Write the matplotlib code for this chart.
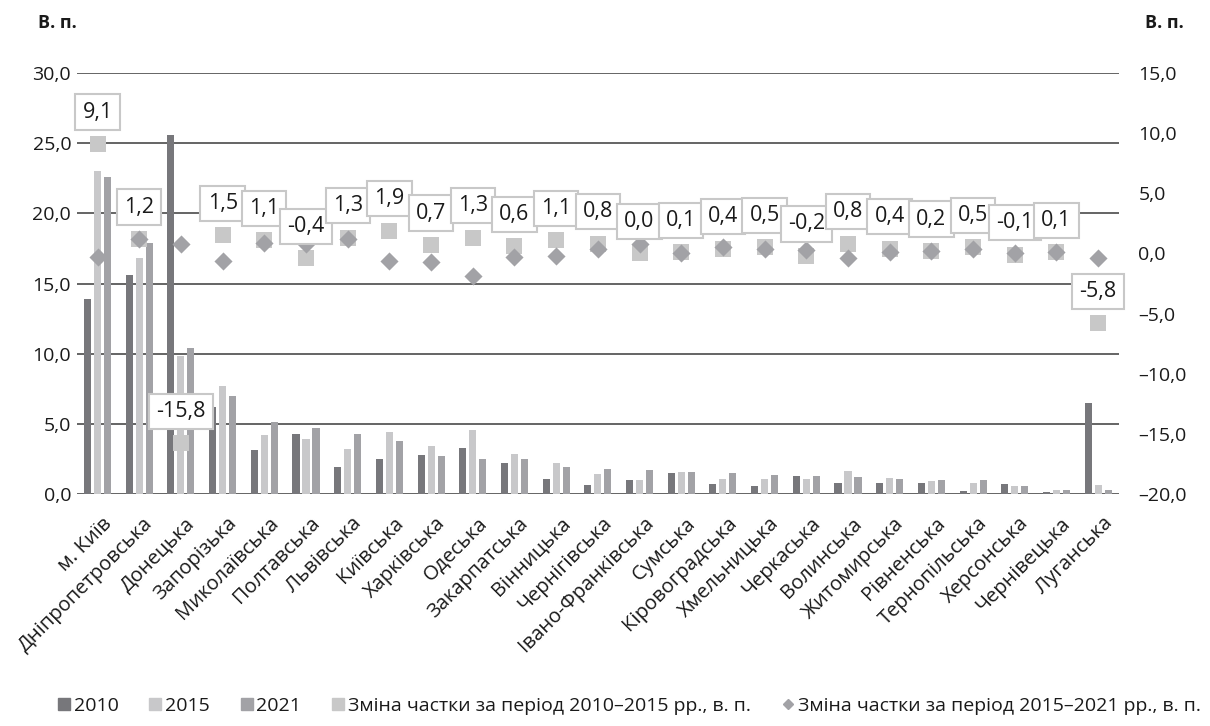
import matplotlib
matplotlib.use('Agg')
import matplotlib.pyplot as plt
from matplotlib.lines import Line2D
import matplotlib.transforms as mtransforms
import numpy as np

plt.rcParams['font.family'] = ['Open Sans', 'DejaVu Sans']

regions = ['м. Київ', 'Дніпропетровська', 'Донецька', 'Запорізька', 'Миколаївська',
           'Полтавська', 'Львівська', 'Київська', 'Харківська', 'Одеська',
           'Закарпатська', 'Вінницька', 'Чернігівська', 'Івано-Франківська', 'Сумська',
           'Кіровоградська', 'Хмельницька', 'Черкаська', 'Волинська', 'Житомирська',
           'Рівненська', 'Тернопільська', 'Херсонська', 'Чернівецька', 'Луганська']

share_2010 = [13.9, 15.6, 25.6, 6.2, 3.1, 4.3, 1.9, 2.5, 2.75, 3.25, 2.2, 1.1, 0.65, 1.0,
              1.5, 0.7, 0.55, 1.3, 0.8, 0.75, 0.75, 0.22, 0.68, 0.17, 6.45]
share_2015 = [23.0, 16.8, 9.8, 7.7, 4.2, 3.9, 3.2, 4.4, 3.45, 4.55, 2.85, 2.2, 1.45, 0.98,
              1.6, 1.08, 1.05, 1.1, 1.65, 1.15, 0.95, 0.75, 0.6, 0.27, 0.65]
share_2021 = [22.6, 17.9, 10.4, 7.0, 5.1, 4.7, 4.3, 3.8, 2.7, 2.5, 2.5, 1.9, 1.75, 1.72,
              1.58, 1.5, 1.35, 1.25, 1.2, 1.1, 1.0, 0.98, 0.58, 0.3, 0.25]

change_2010_2015 = [9.1, 1.2, -15.8, 1.5, 1.1, -0.4, 1.3, 1.9, 0.7, 1.3, 0.6, 1.1, 0.8, 0.0,
                    0.1, 0.4, 0.5, -0.2, 0.8, 0.4, 0.2, 0.5, -0.1, 0.1, -5.8]
change_2015_2021 = [-0.3, 1.2, 0.8, -0.6, 0.9, 0.8, 1.2, -0.6, -0.7, -1.9, -0.3, -0.2, 0.4,
                    0.75, 0.05, 0.5, 0.35, 0.25, -0.4, 0.1, 0.2, 0.4, 0.05, 0.15, -0.35]

c2010 = '#77777b'
c2015 = '#c8c8ca'
c2021 = '#a2a2a6'
c_sq = '#c8c8c8'
c_dia = '#a2a2a6'

x = np.arange(len(regions))
w = 0.17
step = 0.24

fig = plt.figure(figsize=(12.1, 7.26), dpi=100)
ax = fig.add_axes([0.0634, 0.3196, 0.8614, 0.5798])
ax2 = ax.twinx()

ax.bar(x - step, share_2010, w, color=c2010, zorder=2)
ax.bar(x, share_2015, w, color=c2015, zorder=2)
ax.bar(x + step, share_2021, w, color=c2021, zorder=2)

ax.set_xlim(-0.5, len(regions) - 0.5)
ax.set_ylim(0, 30)
ax.set_yticks(np.arange(0, 31, 5))
ax.set_yticklabels([f'{v:.1f}'.replace('.', ',') for v in np.arange(0, 31, 5)])
ax.yaxis.grid(True, color='#3a3a3a', lw=1.1, zorder=0)
ax.set_axisbelow(True)
ax.tick_params(axis='y', length=0, pad=4, labelsize=14, colors='#1a1a1a')
ax.set_xticks(x)
ax.set_xticklabels(regions, rotation=45, ha='right', rotation_mode='anchor',
                   fontsize=14.5, color='#1a1a1a')
ax.tick_params(axis='x', length=0, pad=14)
shift = mtransforms.ScaledTranslation(4 / 100, 0, fig.dpi_scale_trans)
for lbl in ax.get_xticklabels():
    lbl.set_transform(lbl.get_transform() + shift)

ax2.scatter(x, change_2010_2015, marker='s', s=130, color=c_sq, zorder=3, linewidths=0)
ax2.scatter(x, change_2015_2021, marker='D', s=85, color=c_dia, zorder=4, linewidths=0)
ax2.set_ylim(-20, 15)
rt = np.arange(-20, 16, 5)
ax2.set_yticks(rt)
ax2.set_yticklabels([f'{v:.1f}'.replace('.', ',').replace('-', '\u2013') for v in rt])
ax2.tick_params(axis='y', length=0, pad=14, labelsize=14, colors='#1a1a1a')

for i, v in enumerate(change_2010_2015):
    ax2.annotate(f'{v:.1f}'.replace('.', ','), (x[i], v), xytext=(0, 23),
                 textcoords='offset points', ha='center', va='center',
                 fontsize=15.5, color='#1a1a1a', zorder=5,
                 bbox=dict(boxstyle='square,pad=0.33', fc='white', ec='#c8c8c8', lw=1.5))

for a in (ax, ax2):
    for s in a.spines.values():
        s.set_visible(False)

fig.text(0.031, 0.962, 'В. п.', fontsize=13, fontweight='bold', color='#1a1a1a')
fig.text(0.946, 0.962, 'В. п.', fontsize=13, fontweight='bold', color='#1a1a1a')

handles = [
    Line2D([], [], marker='s', ls='', color=c2010, ms=9),
    Line2D([], [], marker='s', ls='', color=c2015, ms=9),
    Line2D([], [], marker='s', ls='', color=c2021, ms=9),
    Line2D([], [], marker='s', ls='', color=c_sq, ms=9),
    Line2D([], [], marker='D', ls='', color=c_dia, ms=5.5),
]
labels = ['2010', '2015', '2021', 'Зміна частки за період 2010–2015 рр., в. п.',
          'Зміна частки за період 2015–2021 рр., в. п.']
fig.legend(handles, labels, loc='center', bbox_to_anchor=(0.52, 0.028), ncol=5,
           frameon=False, fontsize=14, handlelength=0.6, handletextpad=0.2,
           columnspacing=1.6, labelcolor='#1a1a1a')

fig.savefig('out.png', dpi=100)
